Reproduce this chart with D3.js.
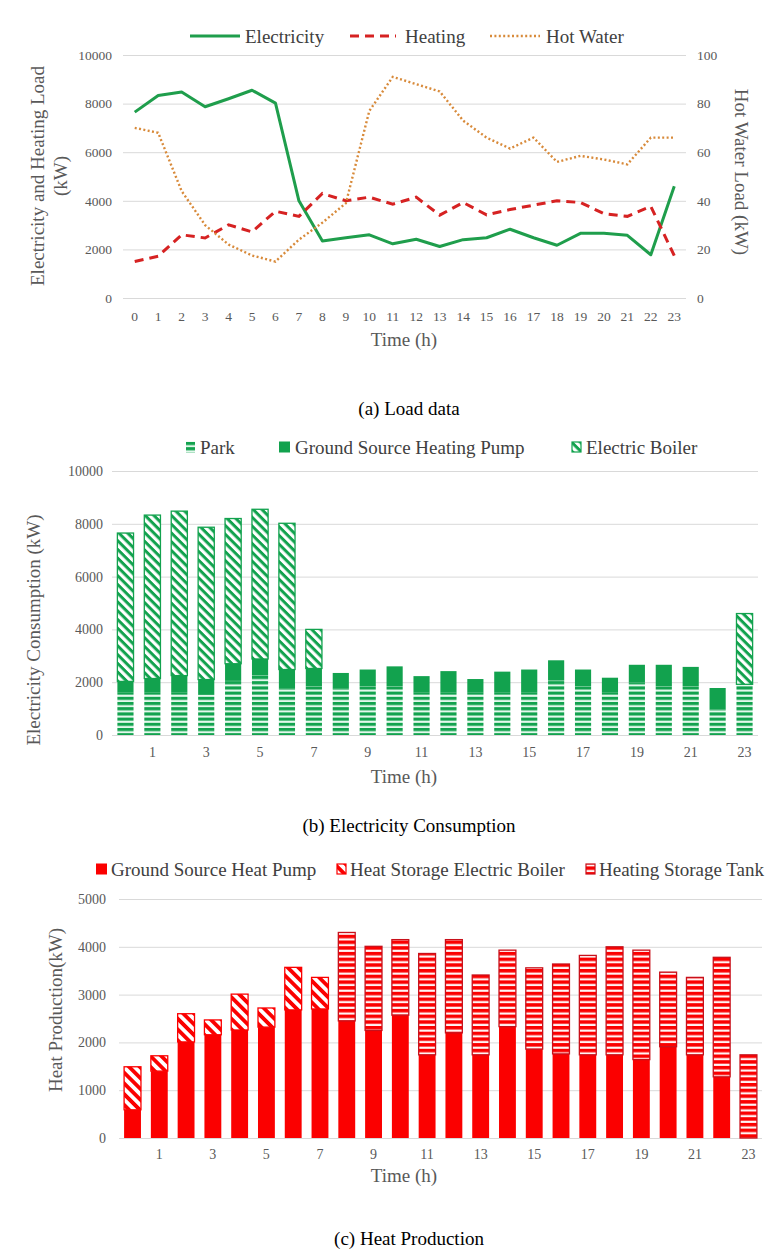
<!DOCTYPE html>
<html><head><meta charset="utf-8">
<script src="https://cdn.jsdelivr.net/npm/d3@7/dist/d3.min.js"></script>
<style>
body{margin:0;background:#fff}
text{font-family:"Liberation Serif","Times New Roman",serif}
</style>
</head><body>
<svg id="c" width="778" height="1258"></svg>
<script>
// ---------------- DATA ----------------
const hours = [0,1,2,3,4,5,6,7,8,9,10,11,12,13,14,15,16,17,18,19,20,21,22,23];
const oddHours = [1,3,5,7,9,11,13,15,17,19,21,23];

// (a) Load data
const electricityLoad = [7650,8330,8480,7870,8200,8550,8020,4000,2350,2480,2600,2230,2420,2120,2400,2480,2830,2480,2170,2660,2660,2580,1780,4600];
const heatingLoad     = [1500,1720,2600,2470,3010,2720,3570,3360,4300,4000,4150,3860,4150,3410,3930,3420,3640,3820,4000,3930,3470,3360,3770,1740];
const hotWaterLoad    = [70,68,44,30,22,17.5,15,24,31,39,77,91,88,85,73,66,61.5,66,56,58.5,57,55,66,66];
const leftTicks1  = [0,2000,4000,6000,8000,10000];
const rightTicks1 = [0,20,40,60,80,100];

// (b) Electricity consumption
const parkElec   = [1600,1600,1600,1520,2050,2250,1750,1850,1750,1850,1850,1620,1620,1620,1620,1620,2060,1850,1620,1980,1850,1850,960,1920];
const gshpElec   = [430,540,650,580,650,630,730,670,600,630,750,610,800,500,780,860,770,630,550,680,810,730,820,0];
const boilerElec = [5620,6190,6230,5770,5500,5670,5540,1480,0,0,0,0,0,0,0,0,0,0,0,0,0,0,0,2680];
const ticks2 = [0,2000,4000,6000,8000,10000];

// (c) Heat production
const gshpHeat   = [590,1400,2010,2160,2260,2320,2680,2700,2450,2250,2570,1740,2200,1740,2330,1860,1760,1740,1740,1640,1910,1740,1280,0];
const boilerHeat = [900,320,590,310,750,400,890,660,0,0,0,0,0,0,0,0,0,0,0,0,0,0,0,0];
const tankHeat   = [0,0,0,0,0,0,0,0,1850,1760,1580,2120,1950,1670,1600,1700,1880,2080,2260,2290,1560,1620,2500,1740];
const ticks3 = [0,1000,2000,3000,4000,5000];

// ---------------- STYLE ----------------
const GREEN = "#12a24e", GREEN_LINE = "#1f9e4c", LIGHT_GREEN = "#e3f8ec";
const RED = "#fb0000", RED_DARK = "#c8101a", LINE_RED = "#d62222", ORANGE = "#d88a3a";
const AXIS_TXT = "#595959", GRID = "#d9d9d9";
const fmt = d3.format("d");

const svg = d3.select("#c");
const defs = svg.append("defs");
function stripePattern(id, fg, bg, period, thick, angle) {
  const p = defs.append("pattern").attr("id", id)
    .attr("patternUnits", "userSpaceOnUse")
    .attr("width", period).attr("height", period)
    .attr("patternTransform", `rotate(${angle})`);
  p.append("rect").attr("width", period).attr("height", period).attr("fill", bg);
  p.append("rect").attr("width", period).attr("height", thick).attr("fill", fg);
}
stripePattern("parkP", GREEN, LIGHT_GREEN, 5.2, 3.1, 0);
stripePattern("ebGP", GREEN, "#ffffff", 6.2, 3.0, 45);
stripePattern("ebRP", RED, "#ffffff", 7.6, 3.8, 45);
stripePattern("tankP", RED, "#fff4f4", 5.7, 3.5, 0);

function styleAxis(g, size) {
  g.select(".domain").remove();
  g.selectAll("line").attr("stroke", GRID).attr("stroke-width", 1);
  g.selectAll("text").attr("fill", AXIS_TXT).style("font-size", size + "px")
    .style("font-family", '"Liberation Serif","Times New Roman",serif');
}
function text(x, y, str, opts = {}) {
  const t = svg.append("text").attr("x", x).attr("y", y).text(str)
    .attr("fill", opts.fill || AXIS_TXT)
    .style("font-size", (opts.size || 19) + "px")
    .attr("text-anchor", opts.anchor || "middle")
    .attr("dominant-baseline", "central");
  if (opts.rotate) t.attr("transform", `rotate(${opts.rotate},${x},${y})`);
  if (opts.ls) t.style("letter-spacing", opts.ls + "px");
  return t;
}

// ================= (a) LOAD DATA =================
{
  const L = 123, R = 686, T = 55, B = 298;
  const x = d3.scaleBand().domain(hours).range([L, R]);
  const cx = h => x(h) + x.bandwidth() / 2;
  const yL = d3.scaleLinear().domain([0, 10000]).range([B, T]);
  const yR = d3.scaleLinear().domain([0, 100]).range([B, T]);

  svg.append("g").attr("transform", `translate(${L},0)`)
    .call(d3.axisLeft(yL).tickValues(leftTicks1).tickFormat(fmt).tickSize(-(R - L)).tickPadding(11))
    .call(g => styleAxis(g, 13.5));
  svg.append("g").attr("transform", `translate(${R},0)`)
    .call(d3.axisRight(yR).tickValues(rightTicks1).tickFormat(fmt).tickSize(0).tickPadding(11))
    .call(g => styleAxis(g, 13.5));
  svg.append("g").attr("transform", `translate(0,${B})`)
    .call(d3.axisBottom(x).tickSize(0).tickPadding(13))
    .call(g => styleAxis(g, 13.5));

  const lineL = arr => d3.line().x((d, i) => cx(hours[i])).y(d => yL(d))(arr);
  const lineR = arr => d3.line().x((d, i) => cx(hours[i])).y(d => yR(d))(arr);

  svg.append("path").attr("d", lineL(electricityLoad)).attr("fill", "none")
    .attr("stroke", GREEN_LINE).attr("stroke-width", 3).attr("stroke-linejoin", "round");
  svg.append("path").attr("d", lineL(heatingLoad)).attr("fill", "none")
    .attr("stroke", LINE_RED).attr("stroke-width", 3).attr("stroke-dasharray", "9 6");
  svg.append("path").attr("d", lineR(hotWaterLoad)).attr("fill", "none")
    .attr("stroke", ORANGE).attr("stroke-width", 2.4).attr("stroke-dasharray", "2 2.4");

  // legend
  const ly = 36;
  svg.append("line").attr("x1", 190).attr("x2", 240).attr("y1", ly).attr("y2", ly)
    .attr("stroke", GREEN_LINE).attr("stroke-width", 3);
  text(245, ly, "Electricity", { anchor: "start", fill: "#404040" });
  svg.append("line").attr("x1", 350).attr("x2", 396).attr("y1", ly).attr("y2", ly)
    .attr("stroke", LINE_RED).attr("stroke-width", 3).attr("stroke-dasharray", "9 6");
  text(405, ly, "Heating", { anchor: "start", fill: "#404040" });
  svg.append("line").attr("x1", 490).attr("x2", 540).attr("y1", ly).attr("y2", ly)
    .attr("stroke", ORANGE).attr("stroke-width", 2.4).attr("stroke-dasharray", "2 2.4");
  text(546, ly, "Hot Water", { anchor: "start", fill: "#404040" });

  text(37, 176, "Electricity and Heating Load", { rotate: -90 });
  text(60, 176, "(kW)", { rotate: -90 });
  text(741, 172, "Hot Water Load (kW)", { rotate: 90 });
  text(404, 339, "Time (h)");
  text(409, 408, "(a) Load data", { fill: "#000" });
}

// ================= (b) ELECTRICITY CONSUMPTION =================
{
  const L = 112, R = 758, T = 471, B = 735;
  const x = d3.scaleBand().domain(hours).range([L, R]).paddingInner(0.4).paddingOuter(0.2);
  const y = d3.scaleLinear().domain([0, 10000]).range([B, T]);

  svg.append("g").attr("transform", `translate(${L},0)`)
    .call(d3.axisLeft(y).tickValues(ticks2).tickFormat(fmt).tickSize(-(R - L)).tickPadding(9))
    .call(g => styleAxis(g, 14));
  svg.append("g").attr("transform", `translate(0,${B})`)
    .call(d3.axisBottom(d3.scaleBand().domain(hours).range([L, R])).tickValues(oddHours).tickSize(0).tickPadding(12))
    .call(g => styleAxis(g, 14));

  const table = hours.map((h, i) => ({ h, park: parkElec[i], gshp: gshpElec[i], eb: boilerElec[i] }));
  const series = d3.stack().keys(["park", "gshp", "eb"])(table);
  const fills = { park: "url(#parkP)", gshp: GREEN, eb: "url(#ebGP)" };
  series.forEach(s => {
    svg.append("g").selectAll("rect").data(s.filter(d => d[1] - d[0] > 0)).join("rect")
      .attr("x", d => x(d.data.h)).attr("width", x.bandwidth())
      .attr("y", d => y(d[1])).attr("height", d => y(d[0]) - y(d[1]))
      .attr("fill", fills[s.key])
      .attr("stroke", s.key === "eb" ? GREEN : "none").attr("stroke-width", 1.3);
  });

  const ly = 447;
  svg.append("rect").attr("x", 186).attr("y", ly - 5.5).attr("width", 9).attr("height", 11).attr("fill", "url(#parkP)");
  text(200, ly, "Park", { anchor: "start", fill: "#404040" });
  svg.append("rect").attr("x", 279).attr("y", ly - 5.5).attr("width", 11).attr("height", 11).attr("fill", GREEN);
  text(295, ly, "Ground Source Heating Pump", { anchor: "start", fill: "#404040" });
  svg.append("rect").attr("x", 572).attr("y", ly - 5).attr("width", 9).attr("height", 10)
    .attr("fill", "url(#ebGP)").attr("stroke", GREEN).attr("stroke-width", 1.2);
  text(586, ly, "Electric Boiler", { anchor: "start", fill: "#404040" });

  text(33, 630, "Electricity Consumption  (kW)", { rotate: -90 });
  text(404, 776, "Time (h)");
  text(409, 825, "(b) Electricity Consumption", { fill: "#000" });
}

// ================= (c) HEAT PRODUCTION =================
{
  const L = 119, R = 762, T = 899, B = 1138;
  const x = d3.scaleBand().domain(hours).range([L, R]).paddingInner(0.37).paddingOuter(0.19);
  const y = d3.scaleLinear().domain([0, 5000]).range([B, T]);

  svg.append("g").attr("transform", `translate(${L},0)`)
    .call(d3.axisLeft(y).tickValues(ticks3).tickFormat(fmt).tickSize(-(R - L)).tickPadding(13))
    .call(g => styleAxis(g, 14));
  svg.append("g").attr("transform", `translate(0,${B})`)
    .call(d3.axisBottom(d3.scaleBand().domain(hours).range([L, R])).tickValues(oddHours).tickSize(0).tickPadding(11))
    .call(g => styleAxis(g, 14));

  const table = hours.map((h, i) => ({ h, gshp: gshpHeat[i], eb: boilerHeat[i], tank: tankHeat[i] }));
  const series = d3.stack().keys(["gshp", "eb", "tank"])(table);
  const fills = { gshp: RED, eb: "url(#ebRP)", tank: "url(#tankP)" };
  const strokes = { gshp: "none", eb: RED, tank: RED_DARK };
  series.forEach(s => {
    svg.append("g").selectAll("rect").data(s.filter(d => d[1] - d[0] > 0)).join("rect")
      .attr("x", d => x(d.data.h)).attr("width", x.bandwidth())
      .attr("y", d => y(d[1])).attr("height", d => y(d[0]) - y(d[1]))
      .attr("fill", fills[s.key])
      .attr("stroke", strokes[s.key]).attr("stroke-width", 1.3);
  });

  const ly = 869;
  svg.append("rect").attr("x", 96).attr("y", ly - 5.5).attr("width", 11).attr("height", 11).attr("fill", RED);
  text(111, ly, "Ground Source Heat Pump", { anchor: "start", fill: "#404040" });
  svg.append("rect").attr("x", 337).attr("y", ly - 5).attr("width", 9).attr("height", 10)
    .attr("fill", "url(#ebRP)").attr("stroke", RED).attr("stroke-width", 1.2);
  text(350, ly, "Heat Storage Electric Boiler", { anchor: "start", fill: "#404040" });
  svg.append("rect").attr("x", 586).attr("y", ly - 5).attr("width", 9).attr("height", 10)
    .attr("fill", "url(#tankP)").attr("stroke", RED_DARK).attr("stroke-width", 1.2);
  text(599, ly, "Heating Storage Tank", { anchor: "start", fill: "#404040" });

  text(55, 1010, "Heat Production(kW)", { rotate: -90 });
  text(404, 1175, "Time (h)");
  text(409, 1238, "(c) Heat Production", { fill: "#000" });
}
</script>
</body></html>
